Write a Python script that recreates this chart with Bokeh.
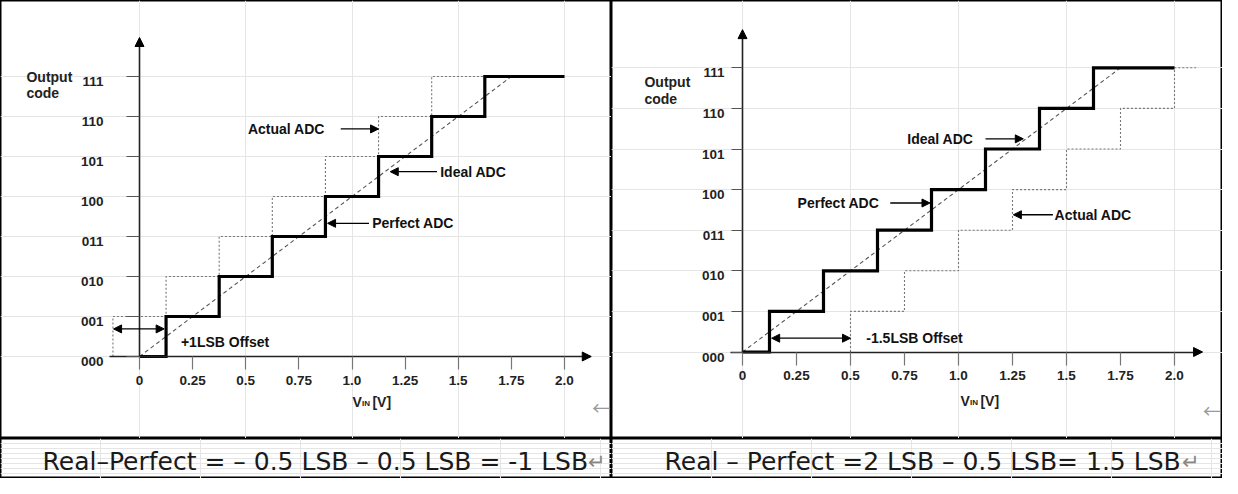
from bokeh.plotting import figure
from bokeh.models import LinearAxis, FixedTicker, Arrow, NormalHead, Range1d, ColumnDataSource
from bokeh.layouts import column, row
from bokeh.embed import file_html
from bokeh.resources import INLINE
from bokeh.core.properties import value

# ---------------- data ----------------
codes = [0, 1, 2, 3, 4, 5, 6, 7]
code_labels = ["000", "001", "010", "011", "100", "101", "110", "111"]
vin_ticks = [0, 0.25, 0.5, 0.75, 1.0, 1.25, 1.5, 1.75, 2.0]
vin_labels = ["0", "0.25", "0.5", "0.75", "1.0", "1.25", "1.5", "1.75", "2.0"]

# Perfect ADC (thick staircase), Ideal ADC (dashed line)
perfect_x = [0, 0.125, 0.375, 0.625, 0.875, 1.125, 1.375, 1.625, 2.0]
perfect_y = [0, 1, 2, 3, 4, 5, 6, 7, 7]
ideal_x = [0, 1.75]
ideal_y = [0, 7]

# Actual ADC (dotted staircase)
actual_l_x = [-0.125, -0.125, 0.125, 0.375, 0.625, 0.875, 1.125, 1.375, 1.625]
actual_l_y = [0, 1, 2, 3, 4, 5, 6, 7, 7]
actual_r_x = [0.5, 0.5, 0.75, 1.0, 1.25, 1.5, 1.75, 2.0, 2.1]
actual_r_y = [0, 1, 2, 3, 4, 5, 6, 7, 7]

# annotations, left chart
note_l_text = ["Actual ADC", "Ideal ADC", "Perfect ADC", "+1LSB Offset"]
note_l_x = [0.51, 1.415, 1.095, 0.195]
note_l_y = [5.69, 4.62, 3.33, 0.36]
arrow_l_x0 = [0.947, 1.40, 1.08]
arrow_l_x1 = [1.125, 1.18, 0.885]
arrow_l_y = [5.69, 4.62, 3.33]
offset_l_x = [-0.122, 0.116]
offset_l_y = [0.69, 0.69]

# annotations, right chart
note_r_text = ["Ideal ADC", "Perfect ADC", "Actual ADC", "-1.5LSB Offset"]
note_r_x = [0.763, 0.255, 1.445, 0.573]
note_r_y = [5.25, 3.67, 3.38, 0.357]
arrow_r_x0 = [1.125, 0.684, 1.437]
arrow_r_x1 = [1.30, 0.868, 1.254]
arrow_r_y = [5.25, 3.67, 3.38]
offset_r_x = [0.135, 0.5]
offset_r_y = [0.34, 0.34]

caption_l = "Real\u2013Perfect = \u2013 0.5 LSB \u2013 0.5 LSB = -1 LSB"
caption_r = "Real \u2013 Perfect =2 LSB \u2013 0.5 LSB= 1.5 LSB"

BOLD = value("Liberation Sans")
CAPF = value("DejaVu Sans")
CJKF = value("Noto Sans CJK SC")


def chart(width, height, x0px, ppv, y0px, ppc, xstart, xtip, ytip, tick_out,
          ylab_gap, act_x, act_y, nt, nx, ny, ax0, ax1, ay, ox, oy,
          out_x, out_y, vin_x, vin_y, ret_x, ret_y):
    p = figure(width=width, height=height,
               x_range=Range1d(-x0px / ppv, (width - x0px) / ppv),
               y_range=Range1d((y0px - height) / ppc, y0px / ppc),
               output_backend="svg", toolbar_location=None, min_border=0,
               x_axis_location=None, y_axis_location=None)
    p.outline_line_color = "black"
    p.outline_line_width = 2
    p.background_fill_color = "white"
    p.border_fill_color = "white"

    # axes
    xax = LinearAxis(fixed_location=0, bounds=(xstart, xtip - 0.03),
                     ticker=FixedTicker(ticks=vin_ticks),
                     major_label_overrides=dict(zip(vin_ticks, vin_labels)),
                     axis_line_color="#222222", axis_line_width=1.6,
                     major_tick_in=0, major_tick_out=13,
                     major_tick_line_color="#777777", major_tick_line_width=1.2,
                     minor_tick_line_color=None, major_label_standoff=6,
                     major_label_text_font="Liberation Sans", major_label_text_font_style="bold",
                     major_label_text_font_size="13.5px", major_label_text_color="#222222")
    p.add_layout(xax, "below")
    yax = LinearAxis(fixed_location=0, bounds=(0, ytip - 0.1),
                     ticker=FixedTicker(ticks=codes),
                     axis_line_color="#222222", axis_line_width=1.6,
                     major_tick_in=0, major_tick_out=tick_out,
                     major_tick_line_color="#555555", major_tick_line_width=1.2,
                     minor_tick_line_color=None,
                     major_label_text_alpha=0, major_label_text_font_size="1px")
    p.add_layout(yax, "left")
    p.text(x=[0] * len(codes), y=codes, text=code_labels, x_offset=-ylab_gap, y_offset=5,
           text_align="right", text_baseline="middle", text_font=BOLD,
           text_font_style="bold", text_font_size="13.5px", text_color="#222222")
    head = dict(size=9, fill_color="black", line_color="black")
    p.add_layout(Arrow(end=NormalHead(**head), x_start=xtip - 0.05, y_start=0,
                       x_end=xtip, y_end=0, line_alpha=0))
    p.add_layout(Arrow(end=NormalHead(**head), x_start=0, y_start=ytip - 0.2,
                       x_end=0, y_end=ytip, line_alpha=0))

    # series
    p.line(ideal_x, ideal_y, line_color="#555555", line_width=1.1, line_dash="4 3")
    p.step(act_x, act_y, mode="after", line_color="#777777", line_width=1.1, line_dash="2 2")
    p.step(perfect_x, perfect_y, mode="after", line_color="black", line_width=3.2,
           line_join="miter")

    # annotations
    p.text(x=nx, y=ny, text=nt, text_align="left", text_baseline="middle",
           text_font=BOLD, text_font_style="bold", text_font_size="14px",
           text_color="#111111")
    src = ColumnDataSource(dict(x0=ax0, x1=ax1, y=ay))
    p.add_layout(Arrow(end=NormalHead(size=8, fill_color="black", line_color="black"),
                       source=src, x_start="x0", y_start="y", x_end="x1", y_end="y",
                       line_color="black", line_width=1.3))
    p.add_layout(Arrow(start=NormalHead(size=8, fill_color="black", line_color="black"),
                       end=NormalHead(size=8, fill_color="black", line_color="black"),
                       x_start=ox[0], y_start=oy[0], x_end=ox[1], y_end=oy[1],
                       line_color="black", line_width=1.3))

    # axis titles
    p.text(x=[out_x, out_x], y=[out_y, out_y - 0.42], text=["Output", "code"],
           text_align="left", text_baseline="middle", text_font=BOLD,
           text_font_style="bold", text_font_size="14px", text_color="#222222")
    p.text(x=[vin_x, vin_x, vin_x], y=[vin_y, vin_y, vin_y], text=["V", "IN", "[V]"],
           x_offset=[0, 9.5, 20], y_offset=[0, 2, 0],
           text_align="left", text_baseline="middle", text_font=BOLD,
           text_font_style="bold", text_font_size=["14px", "8px", "14px"],
           text_color="#222222")
    # paragraph mark of the picture cell (only its arrow part shows)
    p.text(x=[ret_x], y=[ret_y], text=["\u2190"], text_align="right", text_baseline="middle",
           x_offset=-1, text_font=CJKF, text_font_size="18px", text_color="#999999")
    return p


W_L, W_R, H_C, H_T = 611, 611, 438, 40

pl = chart(W_L, H_C, 139, 212.5, 356, 40.0, -0.141, 2.126, 7.975, 13, 36,
           actual_l_x, actual_l_y, note_l_text, note_l_x, note_l_y,
           arrow_l_x0, arrow_l_x1, arrow_l_y, offset_l_x, offset_l_y,
           -0.532, 7.0, 1.002, -1.125, 2.22, -1.25)
pr = chart(W_R, H_C, 131, 216.0, 351.5, 40.6, -0.056, 2.13, 7.94, 11, 18,
           actual_r_x, actual_r_y, note_r_text, note_r_x, note_r_y,
           arrow_r_x0, arrow_r_x1, arrow_r_y, offset_r_x, offset_r_y,
           -0.454, 6.66, 1.009, -1.195, 2.22, -1.44)


def caption(width, text, tx, rx):
    c = figure(width=width, height=H_T, x_range=Range1d(0, width), y_range=Range1d(0, H_T),
               output_backend="svg", toolbar_location=None, min_border=0,
               x_axis_location=None, y_axis_location=None)
    c.outline_line_color = "black"
    c.outline_line_width = 2
    c.background_fill_color = "white"
    c.border_fill_color = "white"
    c.text(x=[tx], y=[17], text=[text], text_align="left", text_baseline="middle",
           text_font=CAPF, text_font_size="25px", text_color="#1a1a1a")
    c.text(x=[rx], y=[19], text=["\u21b5"], text_align="left", text_baseline="middle",
           text_font=CJKF, text_font_size="21px", text_color="#888888")
    return c


cl = caption(W_L, caption_l, 42, 587)
cr = caption(W_R, caption_r, 53, 570)

layout = column(row(pl, pr, spacing=0), row(cl, cr, spacing=0), spacing=0)
open("out.html", "w").write(file_html(layout, INLINE))
